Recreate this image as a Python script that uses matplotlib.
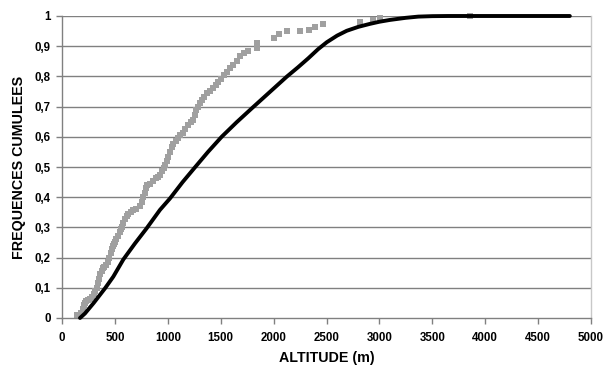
import matplotlib
matplotlib.use("Agg")
import matplotlib.pyplot as plt

plt.rcParams['font.family'] = ['Liberation Sans', 'DejaVu Sans']

# Empirical cumulative frequencies (grey squares)
obs_alt = [140, 175, 195, 205, 215, 230, 250, 265, 280, 300, 315, 330, 340, 350, 360, 375,
           390, 400, 420, 435, 445, 460, 470, 480, 490, 500, 515, 530, 545, 555, 564, 580,
           595, 610, 625, 650, 675, 700, 737, 755, 767, 780, 790, 800, 830, 863, 890, 910,
           926, 945, 960, 973, 990, 1005, 1020, 1035, 1050, 1075, 1095, 1115, 1140, 1165,
           1193, 1215, 1235, 1255, 1270, 1290, 1304, 1320, 1345, 1367, 1400, 1430, 1455,
           1477, 1500, 1531, 1560, 1588, 1620, 1650, 1683, 1720, 1760, 1840, 1845, 2003,
           2053, 2124, 2250, 2338, 2395, 2464, 2817, 2943, 3006, 3856]
obs_freq = [0.010, 0.015, 0.030, 0.043, 0.050, 0.055, 0.058, 0.062, 0.070, 0.078, 0.090,
            0.100, 0.115, 0.130, 0.145, 0.155, 0.165, 0.170, 0.175, 0.185, 0.200, 0.215,
            0.228, 0.238, 0.245, 0.252, 0.262, 0.272, 0.285, 0.295, 0.302, 0.315, 0.328,
            0.338, 0.343, 0.350, 0.357, 0.360, 0.370, 0.385, 0.400, 0.415, 0.430, 0.440,
            0.445, 0.455, 0.462, 0.468, 0.475, 0.488, 0.497, 0.505, 0.520, 0.532, 0.550,
            0.565, 0.575, 0.585, 0.595, 0.605, 0.612, 0.625, 0.640, 0.648, 0.655, 0.672,
            0.690, 0.700, 0.712, 0.722, 0.733, 0.745, 0.752, 0.760, 0.772, 0.780, 0.790,
            0.805, 0.815, 0.828, 0.838, 0.850, 0.868, 0.878, 0.885, 0.895, 0.910, 0.928,
            0.940, 0.950, 0.951, 0.955, 0.962, 0.972, 0.980, 0.987, 0.993, 1.000]

# Theoretical cumulative curve (black line)
curve_alt = [170, 217, 300, 406, 485, 580, 690, 800, 926, 1021, 1140, 1257, 1380, 1509,
             1650, 1793, 1960, 2124, 2230, 2328, 2420, 2502, 2600, 2691, 2800, 2911, 3000,
             3100, 3250, 3368, 3500, 3650, 4000, 4400, 4800]
curve_freq = [0.000, 0.015, 0.050, 0.098, 0.137, 0.194, 0.247, 0.297, 0.358, 0.396, 0.450,
              0.499, 0.550, 0.600, 0.648, 0.694, 0.747, 0.799, 0.830, 0.860, 0.890, 0.913,
              0.935, 0.951, 0.964, 0.974, 0.981, 0.987, 0.994, 0.998, 0.9995, 1.000, 1.000,
              1.000, 1.000]

x_ticks = [0, 500, 1000, 1500, 2000, 2500, 3000, 3500, 4000, 4500, 5000]
y_ticks = [0, 0.1, 0.2, 0.3, 0.4, 0.5, 0.6, 0.7, 0.8, 0.9, 1]
y_labels = ['0', '0,1', '0,2', '0,3', '0,4', '0,5', '0,6', '0,7', '0,8', '0,9', '1']

fig = plt.figure(figsize=(6.04, 3.65), dpi=100)
ax = fig.add_axes([62 / 604, 1 - 318 / 365, (591 - 62) / 604, (318 - 16) / 365])

for yv in y_ticks[1:]:
    ax.axhline(yv, color='#808080', lw=1.0, zorder=1)

ax.plot(obs_alt, obs_freq, linestyle='none', marker='s', markersize=4.2,
        color='#a0a0a0', markeredgewidth=0, zorder=2, clip_on=False)
ax.plot(curve_alt, curve_freq, color='black', lw=2.8, zorder=3,
        solid_capstyle='round', clip_on=False)

ax.set_xlim(0, 5000)
ax.set_ylim(0, 1)
ax.set_xticks(x_ticks)
ax.set_xticklabels([str(v) for v in x_ticks])
ax.set_yticks(y_ticks)
ax.set_yticklabels(y_labels)

for lab in ax.get_xticklabels() + ax.get_yticklabels():
    lab.set_fontweight('bold')
    lab.set_fontsize(8.3)

ax.tick_params(axis='both', direction='out', length=4, width=1, color='#808080', pad=4)
ax.tick_params(axis='x', pad=6)

for s in ['left', 'bottom']:
    ax.spines[s].set_color('#808080')
    ax.spines[s].set_linewidth(1)
ax.spines['top'].set_visible(False)
ax.spines['right'].set_color('#c8c8c8')
ax.spines['right'].set_linewidth(1)

ax.set_xlabel('ALTITUDE (m)', fontsize=10.3, fontweight='bold', labelpad=5)
ax.set_ylabel('FREQUENCES CUMULEES', fontsize=10.3, fontweight='bold', labelpad=6)

fig.savefig('out.png', dpi=100, facecolor='white')
